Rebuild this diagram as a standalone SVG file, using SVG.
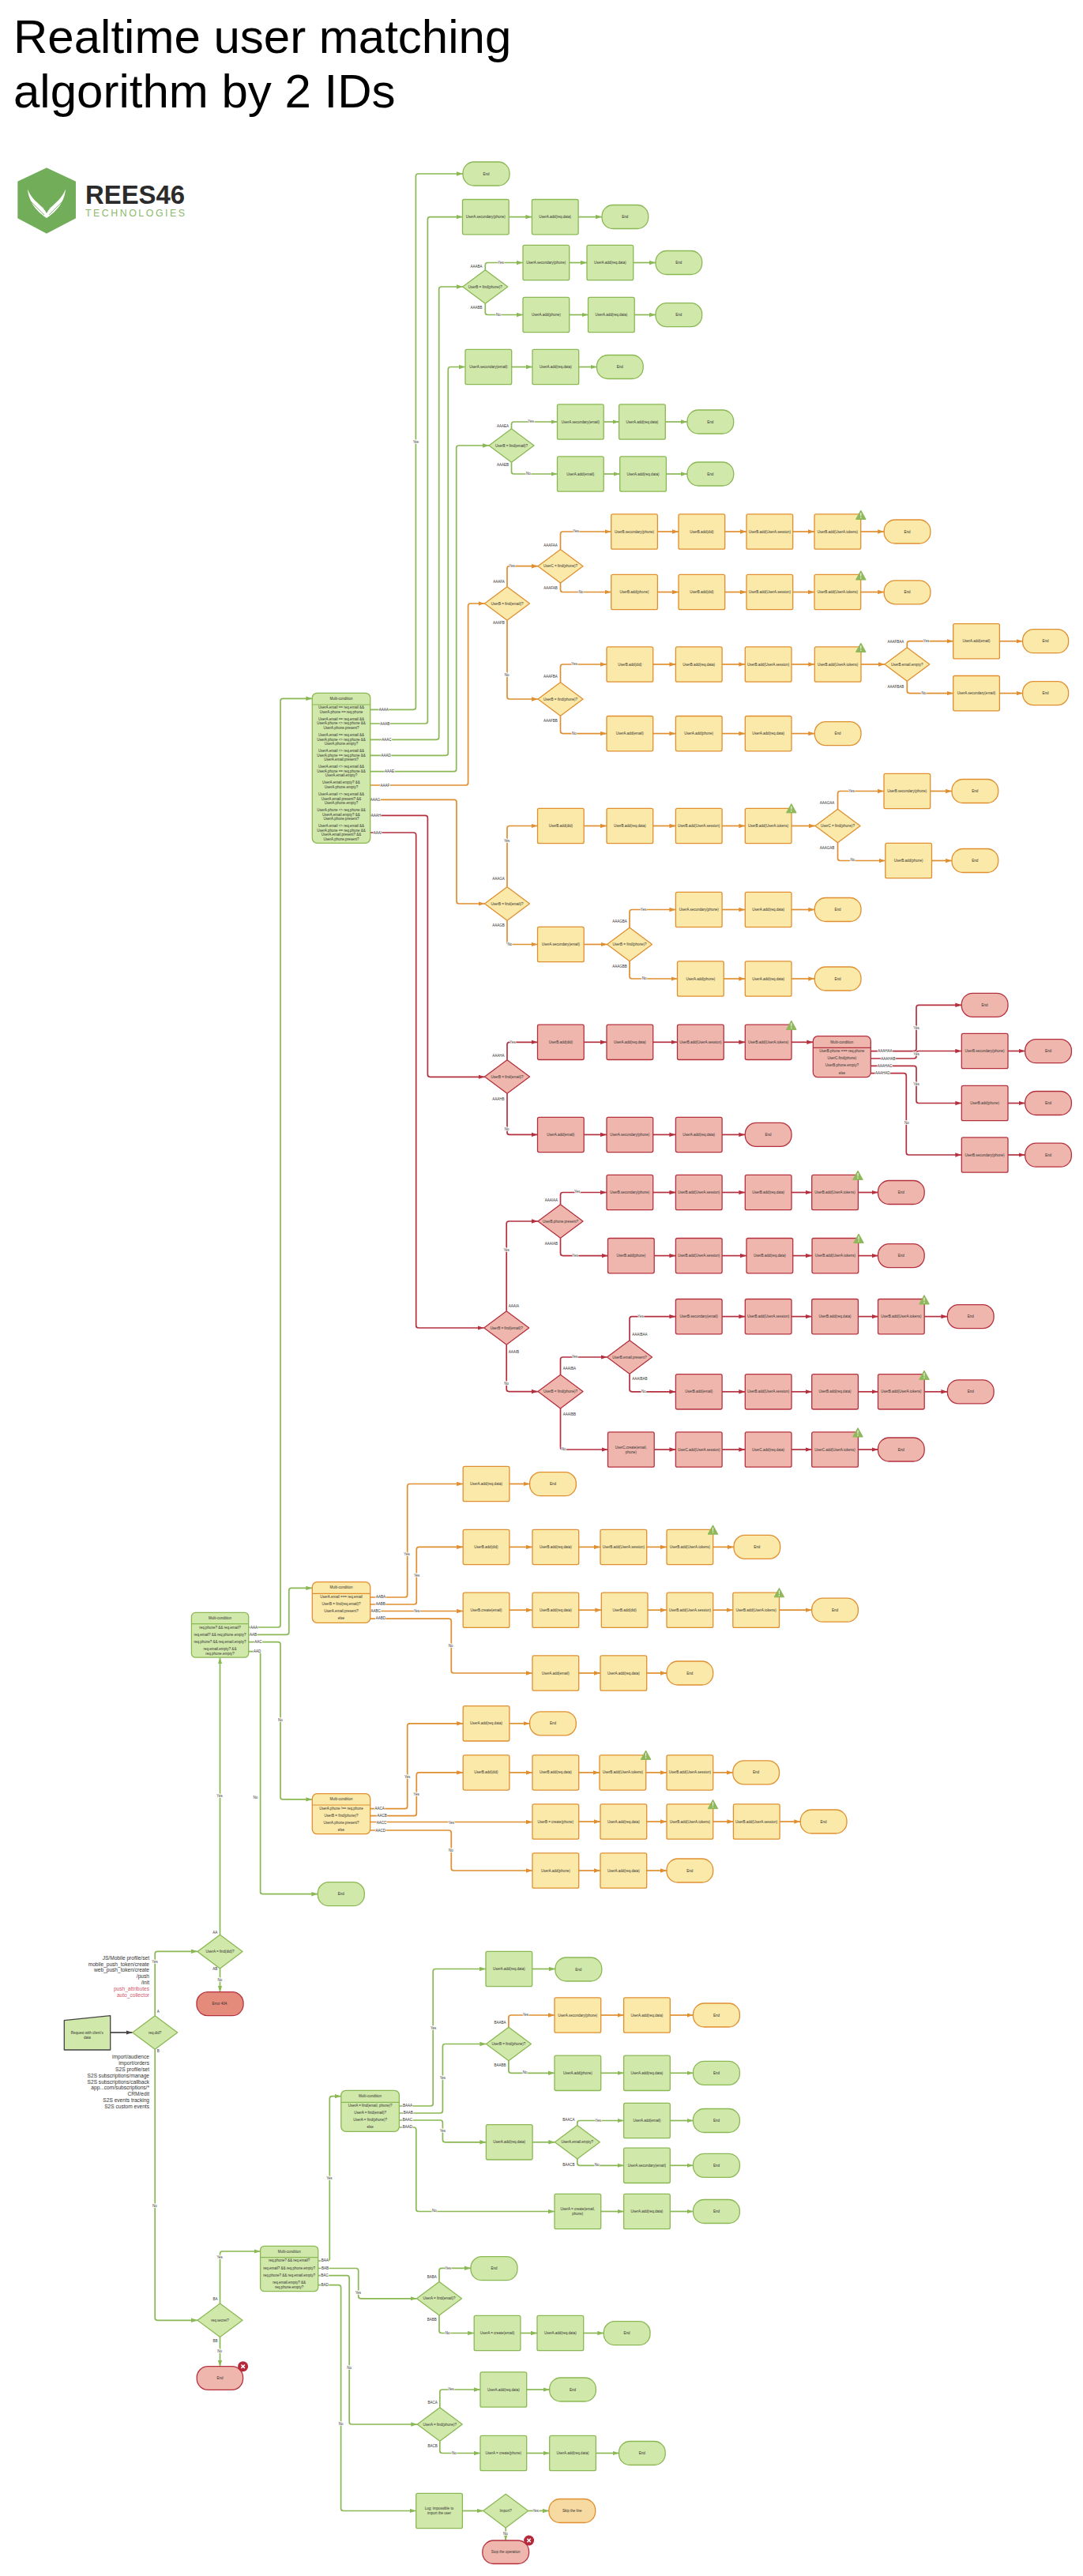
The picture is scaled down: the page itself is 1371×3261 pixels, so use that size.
<svg xmlns="http://www.w3.org/2000/svg" width="1371" height="3261" viewBox="0 0 1371 3261">
<style>
text{font-family:"Liberation Sans",Arial,sans-serif;font-size:4.5px;fill:#333;text-anchor:middle;dominant-baseline:central}
.title{font-size:60px;fill:#000;text-anchor:start;dominant-baseline:auto}
.side{font-size:6.6px;text-anchor:end}
.red{fill:#d2566c}
.l text{paint-order:stroke;stroke:#fff;stroke-width:1.5px}
rect,polygon{stroke-width:1.3;stroke-linejoin:round}
.g{fill:#d1e8ab;stroke:#8ab854}
.o{fill:#fbe9a9;stroke:#e08f30}
.r{fill:#eeb6ac;stroke:#b5303f}
.e{fill:#e58b7c;stroke:#b5303f}
.s{fill:#f6daa2;stroke:#e08f30}
path.h{fill:none;stroke-width:1.2}
.c path{fill:none;stroke-width:1.7}
.cg path{stroke:#8ab854;marker-end:url(#ag)}
.co path{stroke:#e08f30;marker-end:url(#ao)}
.cr path{stroke:#b5303f;marker-end:url(#ar)}
.ck path{stroke:#444;marker-end:url(#ak)}
</style>
<defs>
<marker id="ag" markerUnits="userSpaceOnUse" markerWidth="8" markerHeight="6" refX="8" refY="3" orient="auto"><path d="M0 .3L8 3L0 5.7z" fill="#8ab854"/></marker>
<marker id="ao" markerUnits="userSpaceOnUse" markerWidth="8" markerHeight="6" refX="8" refY="3" orient="auto"><path d="M0 .3L8 3L0 5.7z" fill="#e08f30"/></marker>
<marker id="ar" markerUnits="userSpaceOnUse" markerWidth="8" markerHeight="6" refX="8" refY="3" orient="auto"><path d="M0 .3L8 3L0 5.7z" fill="#b5303f"/></marker>
<marker id="ak" markerUnits="userSpaceOnUse" markerWidth="8" markerHeight="6" refX="8" refY="3" orient="auto"><path d="M0 .3L8 3L0 5.7z" fill="#444"/></marker>
<g id="warn"><path d="M0 -6L6.3 5.4H-6.3z" fill="#8fb85a" stroke="#8fb85a" stroke-linejoin="round"/><path d="M-.6 -2.8H.6L.4 1.6H-.4z M-.6 2.6H.6V3.8H-.6z" fill="#fff"/></g>
<g id="xb"><circle r="6.5" fill="#b5283a"/><path d="M-2.2 -2.2L2.2 2.2M2.2 -2.2L-2.2 2.2" stroke="#fff" stroke-width="1.6"/></g>
</defs>
<rect width="1371" height="3261" fill="#fff" style="stroke:none"/>
<text class="title" x="17" y="67">Realtime user matching</text>
<text class="title" x="17" y="136">algorithm by 2 IDs</text>
<g id="logo">
<polygon points="59,213 95.3,230 95.3,276 59,295 23,276 23,230" style="fill:#72ad5a;stroke:#72ad5a"/>
<path d="M35 239C36 256 47 268 59 276C71 268 82 256 83 239C80 249 70 258 63 263L59 270L55 263C48 258 38 249 35 239z" fill="#fff"/>
<path d="M38 254L56 272M42 249L57 266M80 254L62 272M76 249L61 266" stroke="#72ad5a" stroke-width=".8" fill="none"/>
<text x="171" y="246" textLength="126" lengthAdjust="spacingAndGlyphs" style="font-size:34px;font-weight:bold;fill:#2b2b2b">REES46</text>
<text x="171" y="270" textLength="126" style="font-size:12.4px;fill:#8bba6c">TECHNOLOGIES</text>
</g>
<g id="connectors" class="c">
<g class="cg">
<path d="M468.7 898.3H523.4Q526.4 898.3 526.4 895.3V223Q526.4 220 529.4 220H586"/>
<path d="M468.7 916H538.4Q541.4 916 541.4 913V277.6Q541.4 274.6 544.4 274.6H585.5"/>
<path d="M468.7 936.3H552.7Q555.7 936.3 555.7 933.3V366Q555.7 363 558.7 363H585.8"/>
<path d="M468.7 956.3H564.3Q567.3 956.3 567.3 953.3V467.5Q567.3 464.5 570.3 464.5H589"/>
<path d="M468.7 976.7H574.7Q577.7 976.7 577.7 973.7V567Q577.7 564 580.7 564H619"/>
<path d="M644.2 274.6H673.4"/><path d="M732.1 274.6H762"/>
<path d="M614.3 341.7V335.5Q614.3 332.5 617.3 332.5H662"/>
<path d="M614.3 384.3V395.5Q614.3 398.5 617.3 398.5H662"/>
<path d="M720.7 332.5H743"/><path d="M801.7 332.5H830"/>
<path d="M720.7 398.5H744.5"/><path d="M803.2 398.5H830"/>
<path d="M647.7 464.5H674"/><path d="M732.7 464.5H755.5"/>
<path d="M647.5 542.7V537Q647.5 534 650.5 534H705.5"/>
<path d="M647.5 585.3V597Q647.5 600 650.5 600H705.5"/>
<path d="M764.2 534H783.6"/><path d="M842.3 534H870"/>
<path d="M764.2 600H784.7"/><path d="M843.4 600H870"/>
<path d="M314.7 2060H352Q355 2060 355 2057V887.3Q355 884.3 358 884.3H395.3"/>
<path d="M314.7 2069.3H362.8Q365.8 2069.3 365.8 2066.3V2013.4Q365.8 2010.4 368.8 2010.4H395.3"/>
<path d="M314.7 2078.6H352Q355 2078.6 355 2081.6V2274.9Q355 2277.9 358 2277.9H395.3"/>
<path d="M314.7 2090.7H326.6Q329.6 2090.7 329.6 2093.7V2394.7Q329.6 2397.7 332.6 2397.7H402.3"/>
<path d="M196.2 2551.7V2473.3Q196.2 2470.3 199.2 2470.3H250"/>
<path d="M196.2 2594.3V2934.3Q196.2 2937.3 199.2 2937.3H250"/>
<path d="M278.5 2449.3V2098.4"/><path d="M278.5 2492V2521.7"/>
<path d="M278.5 2916V2853Q278.5 2850 281.5 2850H329.6"/>
<path d="M278.5 2958.7V2995.7"/>
<path d="M402.7 2862H414.3Q417.3 2862 417.3 2859V2656.7Q417.3 2653.7 420.3 2653.7H431.8"/>
<path d="M402.7 2871.5H450.7Q453.7 2871.5 453.7 2874.5V2906.8Q453.7 2909.8 456.7 2909.8H527.5"/>
<path d="M402.7 2880.7H439.2Q442.2 2880.7 442.2 2883.7V3066Q442.2 3069 445.2 3069H528.3"/>
<path d="M402.7 2892.7H428.6Q431.6 2892.7 431.6 2895.7V3175.5Q431.6 3178.5 434.6 3178.5H526.7"/>
<path d="M505.4 2666H545.2Q548.2 2666 548.2 2663V2495.5Q548.2 2492.5 551.2 2492.5H615"/>
<path d="M505.4 2675H557.4Q560.4 2675 560.4 2672V2590.5Q560.4 2587.5 563.4 2587.5H615.4"/>
<path d="M505.4 2684H557.4Q560.4 2684 560.4 2687V2708.8Q560.4 2711.8 563.4 2711.8H615.4"/>
<path d="M505.4 2693H523.8Q526.8 2693 526.8 2696V2796.5Q526.8 2799.5 529.8 2799.5H702"/>
<path d="M673.7 2492.5H702.9"/>
<path d="M643.9 2608.8V2621.3Q643.9 2624.3 646.9 2624.3H702"/>
<path d="M760.7 2624.3H789.6"/><path d="M848.3 2624.3H877.5"/>
<path d="M674.1 2711.8H702.3"/>
<path d="M730.8 2690.5V2687.5Q730.8 2684.5 733.8 2684.5H789.6"/>
<path d="M730.8 2733.1V2738.3Q730.8 2741.3 733.8 2741.3H789.6"/>
<path d="M848.3 2684.5H877.5"/><path d="M848.3 2741.3H877.5"/>
<path d="M760.7 2799.5H789.6"/><path d="M848.3 2799.5H877.5"/>
<path d="M556 2888.5V2874.3Q556 2871.3 559 2871.3H596"/>
<path d="M556 2931.1V2950.5Q556 2953.5 559 2953.5H600.2"/>
<path d="M658.9 2953.5H680"/><path d="M738.7 2953.5H764.3"/>
<path d="M556.8 3047.7V3028Q556.8 3025 559.8 3025H608"/>
<path d="M556.8 3090.3V3102.5Q556.8 3105.5 559.8 3105.5H608"/>
<path d="M666.7 3025H695.7"/>
<path d="M666.7 3105.5H695.7"/><path d="M754.4 3105.5H783.5"/>
<path d="M585.4 3178.5H611.7"/>
<path d="M668.7 3178.5H694.9"/>
<path d="M640.2 3199.9V3216"/>
</g>
<g class="co">
<path d="M468.7 994H589.6Q592.6 994 592.6 991V767Q592.6 764 595.6 764H613.5"/>
<path d="M468.7 1012.3H575Q578 1012.3 578 1015.3V1141Q578 1144 581 1144H613.5"/>
<path d="M642 742.7V719.7Q642 716.7 645 716.7H681"/>
<path d="M642 785.3V882Q642 885 645 885H681"/>
<path d="M709.5 695.4V676Q709.5 673 712.5 673H773.7"/>
<path d="M709.5 738V746.5Q709.5 749.5 712.5 749.5H773.7"/>
<path d="M832.4 673H859"/><path d="M917.7 673H945"/><path d="M1003.7 673H1031"/><path d="M1089.7 673H1119.2"/>
<path d="M832.4 749.5H859"/><path d="M917.7 749.5H945"/><path d="M1003.7 749.5H1031"/><path d="M1089.7 749.5H1119.2"/>
<path d="M709.5 863.7V844Q709.5 841 712.5 841H768"/>
<path d="M709.5 906.3V925.6Q709.5 928.6 712.5 928.6H768"/>
<path d="M826.7 841H855.4"/><path d="M914.1 841H943.3"/><path d="M1002 841H1031.3"/><path d="M1090 841H1119.8"/>
<path d="M1148.3 819.7V814.7Q1148.3 811.7 1151.3 811.7H1206.7"/>
<path d="M1148.3 862.3V874.6Q1148.3 877.6 1151.3 877.6H1206.7"/>
<path d="M1265.4 811.7H1294.6"/><path d="M1265.4 877.6H1294.6"/>
<path d="M826.7 928.6H855.4"/><path d="M914.1 928.6H943.3"/><path d="M1002 928.6H1031.3"/>
<path d="M642 1122.7V1048.5Q642 1045.5 645 1045.5H680.5"/>
<path d="M642 1165.3V1192.5Q642 1195.5 645 1195.5H680.5"/>
<path d="M739.2 1045.5H768"/><path d="M826.7 1045.5H855.4"/><path d="M914.1 1045.5H943.3"/><path d="M1002 1045.5H1032"/>
<path d="M1060.5 1024.2V1004.5Q1060.5 1001.5 1063.5 1001.5H1119"/>
<path d="M1060.5 1066.8V1086.5Q1060.5 1089.5 1063.5 1089.5H1120.8"/>
<path d="M1177.7 1001.5H1205"/><path d="M1179.5 1089.5H1205"/>
<path d="M739.2 1195.5H768.5"/>
<path d="M797 1174.2V1154.5Q797 1151.5 800 1151.5H855.4"/>
<path d="M797 1216.8V1236Q797 1239 800 1239H857.5"/>
<path d="M914.1 1151.5H943.3"/><path d="M1002 1151.5H1031.3"/>
<path d="M916.2 1239H943.3"/><path d="M1002 1239H1031.3"/>
<path d="M468.7 2022H512.7Q515.7 2022 515.7 2019V1881.5Q515.7 1878.5 518.7 1878.5H586.2"/>
<path d="M468.7 2031H524.3Q527.3 2031 527.3 2028V1961.4Q527.3 1958.4 530.3 1958.4H586.2"/>
<path d="M468.7 2039.5H586.2"/>
<path d="M468.7 2049.2H568.3Q571.3 2049.2 571.3 2052.2V2115Q571.3 2118 574.3 2118H674"/>
<path d="M645 1878.5H670.6"/>
<path d="M645 1958.4H674"/><path d="M732.7 1958.4H760"/><path d="M818.7 1958.4H844"/><path d="M902.7 1958.4H929"/>
<path d="M645 2038.2H674"/><path d="M732.7 2038.2H761.3"/><path d="M820 2038.2H844"/><path d="M902.7 2038.2H927.8"/><path d="M986.5 2038.2H1027.7"/>
<path d="M732.7 2118H760"/><path d="M818.7 2118H844"/>
<path d="M468.7 2289.7H512.7Q515.7 2289.7 515.7 2286.7V2184.8Q515.7 2181.8 518.7 2181.8H586.2"/>
<path d="M468.7 2298.7H524.3Q527.3 2298.7 527.3 2295.7V2246.9Q527.3 2243.9 530.3 2243.9H586.2"/>
<path d="M468.7 2306.5H674"/>
<path d="M468.7 2317H568.3Q571.3 2317 571.3 2320V2365Q571.3 2368 574.3 2368H674"/>
<path d="M645 2181.8H670.6"/>
<path d="M645 2243.9H674"/><path d="M732.7 2243.9H759"/><path d="M817.7 2243.9H844"/><path d="M902.7 2243.9H927.8"/>
<path d="M732.7 2306H760"/><path d="M818.7 2306H844"/><path d="M902.7 2306H928.4"/><path d="M987.1 2306H1013.3"/>
<path d="M732.7 2368H760"/><path d="M818.7 2368H844"/>
<path d="M643.9 2566.2V2554Q643.9 2551 646.9 2551H702"/>
<path d="M760.7 2551H789.6"/><path d="M848.3 2551H877.5"/>
</g>
<g class="cr">
<path d="M468.7 1032.3H538.4Q541.4 1032.3 541.4 1035.3V1360.3Q541.4 1363.3 544.4 1363.3H613.5"/>
<path d="M468.7 1054H523.7Q526.7 1054 526.7 1057V1678Q526.7 1681 529.7 1681H612.7"/>
<path d="M642 1341.7V1322.3Q642 1319.3 645 1319.3H680.5"/>
<path d="M642 1384.3V1433.4Q642 1436.4 645 1436.4H680.5"/>
<path d="M739.2 1319.3H768"/><path d="M826.7 1319.3H857.5"/><path d="M916.2 1319.3H943.3"/><path d="M1002 1319.3H1029.3"/>
<path d="M1102.3 1330.7H1157Q1160 1330.7 1160 1327.7V1275.3Q1160 1272.3 1163 1272.3H1217.3"/>
<path d="M1102.3 1340H1157Q1160 1340 1160 1337V1333.5Q1160 1330.5 1163 1330.5H1217.3"/>
<path d="M1102.3 1349.3H1157Q1160 1349.3 1160 1352.3V1393.5Q1160 1396.5 1163 1396.5H1217.3"/>
<path d="M1102.3 1358.7H1144.3Q1147.3 1358.7 1147.3 1361.7V1459Q1147.3 1462 1150.3 1462H1217.3"/>
<path d="M1276 1330.5H1297.7"/><path d="M1276 1396.5H1297.7"/><path d="M1276 1462H1297.7"/>
<path d="M739.2 1436.4H768"/><path d="M826.7 1436.4H855.4"/><path d="M914.1 1436.4H943.3"/>
<path d="M641.2 1659.7V1549Q641.2 1546 644.2 1546H681"/>
<path d="M641.2 1702.3V1758.6Q641.2 1761.6 644.2 1761.6H681"/>
<path d="M709.5 1524.7V1512.5Q709.5 1509.5 712.5 1509.5H768"/>
<path d="M709.5 1567.3V1586.6Q709.5 1589.6 712.5 1589.6H769.5"/>
<path d="M826.7 1509.5H855.4"/><path d="M914.1 1509.5H943.3"/><path d="M1002 1509.5H1027.7"/><path d="M1086.4 1509.5H1111.5"/>
<path d="M828.2 1589.6H855.4"/><path d="M914.1 1589.6H945"/><path d="M1003.7 1589.6H1028"/><path d="M1086.7 1589.6H1111.5"/>
<path d="M709.5 1740.3V1721Q709.5 1718 712.5 1718H768.5"/>
<path d="M709.5 1782.9V1832Q709.5 1835 712.5 1835H769.5"/>
<path d="M797 1696.7V1669.6Q797 1666.6 800 1666.6H855.4"/>
<path d="M797 1739.3V1758.8Q797 1761.8 800 1761.8H855.4"/>
<path d="M914.1 1666.6H943.3"/><path d="M1002 1666.6H1027.7"/><path d="M1086.4 1666.6H1111.5"/><path d="M1170.2 1666.6H1199.4"/>
<path d="M914.1 1761.8H943.3"/><path d="M1002 1761.8H1027.7"/><path d="M1086.4 1761.8H1111.5"/><path d="M1170.2 1761.8H1199.4"/>
<path d="M828.2 1835H855.4"/><path d="M914.1 1835H943.3"/><path d="M1002 1835H1027.7"/><path d="M1086.4 1835H1111.5"/>
</g>
<g class="ck"><path d="M139.7 2573H167.5"/></g>
<g class="l">
<text x="526.4" y="559">Yes</text>
<text x="603" y="337">AAABA</text><text x="603" y="389">AAABB</text><text x="634" y="332">Yes</text><text x="631" y="398">No</text>
<text x="636.6" y="539">AAAEA</text><text x="636.6" y="588.6">AAAEB</text><text x="672" y="533">Yes</text><text x="669" y="599">No</text>
<text x="485.7" y="898.3">AAAA</text><text x="487.3" y="916">AAAB</text><text x="489.3" y="936.3">AAAC</text><text x="488.7" y="956">AAAD</text><text x="493" y="976.7">AAAE</text><text x="487.3" y="994">AAAF</text><text x="475" y="1012">AAAG</text><text x="476" y="1032">AAAH</text><text x="478" y="1054">AAAI</text>
<text x="631.4" y="736.5">AAAFA</text><text x="631.4" y="788.7">AAAFB</text><text x="648" y="716">Yes</text><text x="641.7" y="854">No</text>
<text x="697" y="690">AAAFAA</text><text x="697" y="744">AAAFAB</text><text x="729" y="672">Yes</text><text x="735.4" y="749">No</text>
<text x="697" y="856">AAAFBA</text><text x="697" y="912">AAAFBB</text><text x="727" y="840.5">Yes</text><text x="727" y="928">No</text>
<text x="1134" y="812.4">AAAFBAA</text><text x="1134" y="869">AAAFBAB</text><text x="1172.5" y="811">Yes</text><text x="1169.4" y="877">No</text>
<text x="631" y="1112">AAAGA</text><text x="631" y="1171">AAAGB</text><text x="641.7" y="1064.7">Yes</text><text x="645.4" y="1195">No</text>
<text x="1047" y="1016">AAAGAA</text><text x="1047" y="1073.4">AAAGAB</text><text x="1078" y="1001.4">Yes</text><text x="1079.4" y="1088.8">No</text>
<text x="784.5" y="1166">AAAGBA</text><text x="784.5" y="1223">AAAGBB</text><text x="814.5" y="1151">Yes</text><text x="815.6" y="1238.6">No</text>
<text x="631" y="1336">AAAHA</text><text x="631" y="1391">AAAHB</text><text x="649" y="1319">Yes</text><text x="641.7" y="1429">No</text>
<text x="1120.3" y="1330.7">AAAHAA</text><text x="1124.3" y="1340">AAAHAB</text><text x="1120" y="1349">AAAHAC</text><text x="1117.3" y="1358.3">AAAHAD</text>
<text x="1160" y="1301">Yes</text><text x="1160" y="1334.7">Yes</text><text x="1160" y="1372.3">Yes</text><text x="1148" y="1421.7">No</text>
<text x="650.5" y="1653">AAAIA</text><text x="650.5" y="1711">AAAIB</text><text x="641.2" y="1582">Yes</text><text x="641.2" y="1751.5">No</text>
<text x="698" y="1519.4">AAAIAA</text><text x="698" y="1574.4">AAAIAB</text><text x="730.7" y="1508.8">Yes</text><text x="728" y="1589">Yes</text>
<text x="721" y="1732">AAAIBA</text><text x="721" y="1790">AAAIBB</text><text x="727.6" y="1717.5">Yes</text><text x="713.6" y="1834">No</text>
<text x="810" y="1689">AAAIBAA</text><text x="810" y="1745.6">AAAIBAB</text><text x="811" y="1666">Yes</text><text x="815" y="1761">No</text>
<text x="321.6" y="2060">AAA</text><text x="320.5" y="2069">AAB</text><text x="326.8" y="2078">AAC</text><text x="325.6" y="2090.7">AAD</text><text x="355" y="2177.5">No</text><text x="323.3" y="2275.7">No</text><text x="278" y="2273">Yes</text>
<text x="482" y="2021.3">AABA</text><text x="481.7" y="2030.3">AABB</text><text x="475.7" y="2039.7">AABC</text><text x="482" y="2048.7">AABD</text>
<text x="515" y="1967.5">Yes</text><text x="527.7" y="1994">Yes</text><text x="527.3" y="2039.7">Yes</text><text x="570.7" y="2083">No</text>
<text x="480.7" y="2289.3">AACA</text><text x="483.7" y="2298.3">AACB</text><text x="483" y="2307.3">AACC</text><text x="481.7" y="2317">AACD</text>
<text x="515.6" y="2249">Yes</text><text x="527" y="2271">Yes</text><text x="571.3" y="2307">Yes</text><text x="570.8" y="2342">No</text>
<text x="272.3" y="2446.3">AA</text><text x="272.3" y="2492.7">AB</text><text x="278.3" y="2506">No</text>
<text x="196" y="2483.3">Yes</text><text x="200.3" y="2546.7">A</text><text x="200.3" y="2596">B</text><text x="196" y="2792.3">No</text>
<text x="516" y="2665.7">BAAA</text><text x="516.8" y="2674.7">BAAB</text><text x="516" y="2683.7">BAAC</text><text x="516" y="2692.7">BAAD</text>
<text x="548.6" y="2567">Yes</text><text x="560.4" y="2630.7">Yes</text><text x="560.4" y="2697.3">Yes</text><text x="550" y="2798.7">No</text>
<text x="633" y="2560">BAABA</text><text x="633" y="2614.7">BAABB</text><text x="665.4" y="2550.3">Yes</text><text x="664.6" y="2623.3">No</text>
<text x="720" y="2683.7">BAACA</text><text x="720" y="2740.3">BAACB</text><text x="757" y="2684">Yes</text><text x="755.7" y="2740.3">No</text>
<text x="278.2" y="2857.3">Yes</text><text x="272.4" y="2910.3">BA</text><text x="272.4" y="2963.7">BB</text><text x="278.2" y="2976.3">No</text>
<text x="411.2" y="2861.7">BAA</text><text x="411.6" y="2871">BAB</text><text x="410.8" y="2880.3">BAC</text><text x="411.2" y="2892.3">BAD</text>
<text x="416.8" y="2757.3">Yes</text><text x="453.3" y="2902">Yes</text><text x="442.2" y="2997.7">No</text><text x="431.6" y="3068.3">No</text>
<text x="567" y="2871.3">Yes</text><text x="546.7" y="2882.7">BABA</text><text x="546.7" y="2936">BABB</text><text x="566.7" y="2953">No</text>
<text x="570.8" y="3024.7">Yes</text><text x="547.6" y="3041.7">BACA</text><text x="547.6" y="3096">BACB</text><text x="575" y="3105">No</text>
<text x="678.2" y="3178">Yes</text><text x="639.8" y="3207">No</text>
</g>
</g>
<g id="nodes">
<g id="side-labels">
<text class="side" x="189" y="2478">JS/Mobile profile/set</text><text class="side" x="189" y="2486">mobile_push_token/create</text><text class="side" x="189" y="2493.7">web_push_token/create</text><text class="side" x="189" y="2501.7">/push</text><text class="side" x="189" y="2509.3">/init</text><text class="side red" x="189" y="2517.3">push_attributes</text><text class="side red" x="189" y="2525.3">auto_collector</text>
<text class="side" x="189" y="2603.3">import/audience</text><text class="side" x="189" y="2611.3">import/orders</text><text class="side" x="189" y="2619.3">S2S  profile/set</text><text class="side" x="189" y="2627">S2S subscriptions/manage</text><text class="side" x="189" y="2635">S2S subscriptions/callback</text><text class="side" x="189" y="2642.7">app...com/subscriptions/*</text><text class="side" x="189" y="2650.7">CRM/edit</text><text class="side" x="189" y="2658.7">S2S events tracking</text><text class="side" x="189" y="2666.3">S2S custom events</text>
</g>
<g id="e1"><rect class="g" x="586" y="205" width="59" height="30" rx="14"/><text x="615.5" y="220">End</text></g>
<g id="a1"><rect class="g" x="585.5" y="252.5" width="58.7" height="44.3" rx="2"/><text x="614.8" y="274.6">UserA.secondary(phone)</text></g>
<g id="a2"><rect class="g" x="673.4" y="252.5" width="58.7" height="44.3" rx="2"/><text x="702.7" y="274.6">UserA.add(req.data)</text></g>
<g id="a3"><rect class="g" x="762" y="259.5" width="58.7" height="30" rx="14"/><text x="791.3" y="274.6">End</text></g>
<g id="b0"><polygon class="g" points="585.8,363 614.3,341.7 642.8,363 614.3,384.3"/><text x="614.3" y="363">UserB = find(phone)?</text></g>
<g id="b1"><rect class="g" x="662" y="310.4" width="58.7" height="44.3" rx="2"/><text x="691.3" y="332.5">UserA.secondary(phone)</text></g>
<g id="b2"><rect class="g" x="743" y="310.4" width="58.7" height="44.3" rx="2"/><text x="772.3" y="332.5">UserA.add(req.data)</text></g>
<g id="b3"><rect class="g" x="830" y="317.5" width="58.7" height="30" rx="14"/><text x="859.3" y="332.5">End</text></g>
<g id="b4"><rect class="g" x="662" y="376.4" width="58.7" height="44.3" rx="2"/><text x="691.3" y="398.5">UserA.add(phone)</text></g>
<g id="b5"><rect class="g" x="744.5" y="376.4" width="58.7" height="44.3" rx="2"/><text x="773.8" y="398.5">UserA.add(req.data)</text></g>
<g id="b6"><rect class="g" x="830" y="383.6" width="58.7" height="30" rx="14"/><text x="859.3" y="398.5">End</text></g>
<g id="c1"><rect class="g" x="589" y="442.4" width="58.7" height="44.3" rx="2"/><text x="618.3" y="464.5">UserA.secondary(email)</text></g>
<g id="c2"><rect class="g" x="674" y="442.4" width="58.7" height="44.3" rx="2"/><text x="703.3" y="464.5">UserA.add(req.data)</text></g>
<g id="c3"><rect class="g" x="755.5" y="449.5" width="58.7" height="30" rx="14"/><text x="784.8" y="464.5">End</text></g>
<g id="d0"><polygon class="g" points="619,564 647.5,542.7 676,564 647.5,585.3"/><text x="647.5" y="564">UserB = find(email)?</text></g>
<g id="d1"><rect class="g" x="705.5" y="511.9" width="58.7" height="44.3" rx="2"/><text x="734.8" y="534">UserA.secondary(email)</text></g>
<g id="d2"><rect class="g" x="783.6" y="511.9" width="58.7" height="44.3" rx="2"/><text x="812.9" y="534">UserA.add(req.data)</text></g>
<g id="d3"><rect class="g" x="870" y="519" width="58.7" height="30" rx="14"/><text x="899.3" y="534">End</text></g>
<g id="d4"><rect class="g" x="705.5" y="577.9" width="58.7" height="44.3" rx="2"/><text x="734.8" y="600">UserA.add(email)</text></g>
<g id="d5"><rect class="g" x="784.7" y="577.9" width="58.7" height="44.3" rx="2"/><text x="814" y="600">UserA.add(req.data)</text></g>
<g id="d6"><rect class="g" x="870" y="585" width="58.7" height="30" rx="14"/><text x="899.3" y="600">End</text></g>
<g id="mAAA"><rect class="g" x="395.3" y="877.3" width="73.4" height="190" rx="6"/><path class="h" d="M395.3 892H468.7" stroke="#8ab854"/>
<text x="432" y="884">Multi-condition</text>
<text x="432" y="895.3">UserA.email == req.email &amp;&amp;</text><text x="432" y="901">UserA.phone == req.phone</text>
<text x="432" y="910">UserA.email == req.email &amp;&amp;</text><text x="432" y="915.7">UserA.phone &lt;&gt; req.phone &amp;&amp;</text><text x="432" y="921.3">UserA.phone.present?</text>
<text x="432" y="930.3">UserA.email == req.email &amp;&amp;</text><text x="432" y="936">UserA.phone &lt;&gt; req.phone &amp;&amp;</text><text x="432" y="941.3">UserA.phone.empty?</text>
<text x="432" y="950.3">UserA.email &lt;&gt; req.email &amp;&amp;</text><text x="432" y="956">UserA.phone == req.phone &amp;&amp;</text><text x="432" y="961.7">UserA.email.present?</text>
<text x="432" y="970.3">UserA.email &lt;&gt; req.email &amp;&amp;</text><text x="432" y="976">UserA.phone == req.phone &amp;&amp;</text><text x="432" y="981.7">UserA.email.empty?</text>
<text x="432" y="990.7">UserA.email.empty? &amp;&amp;</text><text x="432" y="996">UserA.phone.empty?</text>
<text x="432" y="1005.3">UserA.email &lt;&gt; req.email &amp;&amp;</text><text x="432" y="1011">UserA.email.present? &amp;&amp;</text><text x="432" y="1016.3">UserA.phone.empty?</text>
<text x="432" y="1025.3">UserA.phone &lt;&gt; req.phone &amp;&amp;</text><text x="432" y="1031">UserA.email.empty? &amp;&amp;</text><text x="432" y="1036.3">UserA.phone.present?</text>
<text x="432" y="1045.3">UserA.email &lt;&gt; req.email &amp;&amp;</text><text x="432" y="1051">UserA.phone == req.phone &amp;&amp;</text><text x="432" y="1056.7">UserA.email.present? &amp;&amp;</text><text x="432" y="1062">UserA.phone.present?</text></g>
<g id="f0"><polygon class="o" points="613.5,764 642,742.7 670.5,764 642,785.3"/><text x="642" y="764">UserB = find(email)?</text></g>
<g id="f1"><polygon class="o" points="681,716.7 709.5,695.4 738,716.7 709.5,738"/><text x="709.5" y="716.7">UserC = find(phone)?</text></g>
<g id="f2"><rect class="o" x="773.7" y="650.9" width="58.7" height="44.3" rx="2"/><text x="803" y="673">UserB.secondary(phone)</text></g>
<g id="f3"><rect class="o" x="859" y="650.9" width="58.7" height="44.3" rx="2"/><text x="888.3" y="673">UserB.add(did)</text></g>
<g id="f4"><rect class="o" x="945" y="650.9" width="58.7" height="44.3" rx="2"/><text x="974.3" y="673">UserB.add(UserA.session)</text></g>
<g id="f5"><rect class="o" x="1031" y="650.9" width="58.7" height="44.3" rx="2"/><text x="1060.3" y="673">UserB.add(UserA.tokens)</text><use href="#warn" x="1089.8" y="652"/></g>
<g id="f6"><rect class="o" x="1119.2" y="658" width="58.7" height="30" rx="14"/><text x="1148.5" y="673">End</text></g>
<g id="f7"><rect class="o" x="773.7" y="727.4" width="58.7" height="44.3" rx="2"/><text x="803" y="749.5">UserB.add(phone)</text></g>
<g id="f8"><rect class="o" x="859" y="727.4" width="58.7" height="44.3" rx="2"/><text x="888.3" y="749.5">UserB.add(did)</text></g>
<g id="f9"><rect class="o" x="945" y="727.4" width="58.7" height="44.3" rx="2"/><text x="974.3" y="749.5">UserB.add(UserA.session)</text></g>
<g id="f10"><rect class="o" x="1031" y="727.4" width="58.7" height="44.3" rx="2"/><text x="1060.3" y="749.5">UserB.add(UserA.tokens)</text><use href="#warn" x="1089.8" y="728.6"/></g>
<g id="f11"><rect class="o" x="1119.2" y="734.8" width="58.7" height="30" rx="14"/><text x="1148.5" y="749.5">End</text></g>
<g id="h0"><polygon class="o" points="681,885 709.5,863.7 738,885 709.5,906.3"/><text x="709.5" y="885">UserB = find(phone)?</text></g>
<g id="h1"><rect class="o" x="768" y="818.9" width="58.7" height="44.3" rx="2"/><text x="797.3" y="841">UserB.add(did)</text></g>
<g id="h2"><rect class="o" x="855.4" y="818.9" width="58.7" height="44.3" rx="2"/><text x="884.7" y="841">UserB.add(req.data)</text></g>
<g id="h3"><rect class="o" x="943.3" y="818.9" width="58.7" height="44.3" rx="2"/><text x="972.6" y="841">UserB.add(UserA.session)</text></g>
<g id="h4"><rect class="o" x="1031.3" y="818.9" width="58.7" height="44.3" rx="2"/><text x="1060.6" y="841">UserB.add(UserA.tokens)</text><use href="#warn" x="1089.8" y="820"/></g>
<g id="h5"><polygon class="o" points="1119.8,841 1148.3,819.7 1176.8,841 1148.3,862.3"/><text x="1148.3" y="841">UserB.email.empty?</text></g>
<g id="h6"><rect class="o" x="1206.7" y="789.6" width="58.7" height="44.3" rx="2"/><text x="1236" y="811.7">UserA.add(email)</text></g>
<g id="h7"><rect class="o" x="1294.6" y="796.7" width="58" height="30" rx="14"/><text x="1323.6" y="811.7">End</text></g>
<g id="h8"><rect class="o" x="1206.7" y="855.5" width="58.7" height="44.3" rx="2"/><text x="1236" y="877.6">UserA.secondary(email)</text></g>
<g id="h9"><rect class="o" x="1294.6" y="862.6" width="58" height="30" rx="14"/><text x="1323.6" y="877.6">End</text></g>
<g id="i1"><rect class="o" x="768" y="906.5" width="58.7" height="44.3" rx="2"/><text x="797.3" y="928.6">UserA.add(email)</text></g>
<g id="i2"><rect class="o" x="855.4" y="906.5" width="58.7" height="44.3" rx="2"/><text x="884.7" y="928.6">UserA.add(phone)</text></g>
<g id="i3"><rect class="o" x="943.3" y="906.5" width="58.7" height="44.3" rx="2"/><text x="972.6" y="928.6">UserA.add(req.data)</text></g>
<g id="i4"><rect class="o" x="1031.3" y="913.6" width="58.7" height="30" rx="14"/><text x="1060.6" y="928.6">End</text></g>
<g id="j0"><polygon class="o" points="613.5,1144 642,1122.7 670.5,1144 642,1165.3"/><text x="642" y="1144">UserB = find(email)?</text></g>
<g id="j1"><rect class="o" x="680.5" y="1023.4" width="58.7" height="44.3" rx="2"/><text x="709.8" y="1045.5">UserB.add(did)</text></g>
<g id="j2"><rect class="o" x="768" y="1023.4" width="58.7" height="44.3" rx="2"/><text x="797.3" y="1045.5">UserB.add(req.data)</text></g>
<g id="j3"><rect class="o" x="855.4" y="1023.4" width="58.7" height="44.3" rx="2"/><text x="884.7" y="1045.5">UserB.add(UserA.session)</text></g>
<g id="j4"><rect class="o" x="943.3" y="1023.4" width="58.7" height="44.3" rx="2"/><text x="972.6" y="1045.5">UserB.add(UserA.tokens)</text><use href="#warn" x="1001.8" y="1023.5"/></g>
<g id="j5"><polygon class="o" points="1032,1045.5 1060.5,1024.2 1089,1045.5 1060.5,1066.8"/><text x="1060.5" y="1045.5">UserC = find(phone)?</text></g>
<g id="j6"><rect class="o" x="1119" y="979.4" width="58.7" height="44.3" rx="2"/><text x="1148.3" y="1001.5">UserB.secondary(phone)</text></g>
<g id="j7"><rect class="o" x="1205" y="986.5" width="58.7" height="30" rx="14"/><text x="1234.3" y="1001.5">End</text></g>
<g id="j8"><rect class="o" x="1120.8" y="1067.4" width="58.7" height="44.3" rx="2"/><text x="1150.1" y="1089.5">UserB.add(phone)</text></g>
<g id="j9"><rect class="o" x="1205" y="1074.5" width="58.7" height="30" rx="14"/><text x="1234.3" y="1089.5">End</text></g>
<g id="k1"><rect class="o" x="680.5" y="1173.4" width="58.7" height="44.3" rx="2"/><text x="709.8" y="1195.5">UserA.secondary(email)</text></g>
<g id="k2"><polygon class="o" points="768.5,1195.5 797,1174.2 825.5,1195.5 797,1216.8"/><text x="797" y="1195.5">UserB = find(phone)?</text></g>
<g id="k3"><rect class="o" x="855.4" y="1129.4" width="58.7" height="44.3" rx="2"/><text x="884.7" y="1151.5">UserA.secondary(phone)</text></g>
<g id="k4"><rect class="o" x="943.3" y="1129.4" width="58.7" height="44.3" rx="2"/><text x="972.6" y="1151.5">UserA.add(req.data)</text></g>
<g id="k5"><rect class="o" x="1031.3" y="1136.5" width="58.7" height="30" rx="14"/><text x="1060.6" y="1151.5">End</text></g>
<g id="k6"><rect class="o" x="857.5" y="1216.9" width="58.7" height="44.3" rx="2"/><text x="886.8" y="1239">UserA.add(phone)</text></g>
<g id="k7"><rect class="o" x="943.3" y="1216.9" width="58.7" height="44.3" rx="2"/><text x="972.6" y="1239">UserA.add(req.data)</text></g>
<g id="k8"><rect class="o" x="1031.3" y="1224" width="58.7" height="30" rx="14"/><text x="1060.6" y="1239">End</text></g>
<g id="l0"><polygon class="r" points="613.5,1363 642,1341.7 670.5,1363 642,1384.3"/><text x="642" y="1363">UserB = find(email)?</text></g>
<g id="l1"><rect class="r" x="680.5" y="1297.2" width="58.7" height="44.3" rx="2"/><text x="709.8" y="1319.3">UserB.add(did)</text></g>
<g id="l2"><rect class="r" x="768" y="1297.2" width="58.7" height="44.3" rx="2"/><text x="797.3" y="1319.3">UserA.add(req.data)</text></g>
<g id="l3"><rect class="r" x="857.5" y="1297.2" width="58.7" height="44.3" rx="2"/><text x="886.8" y="1319.3">UserB.add(UserA.session)</text></g>
<g id="l4"><rect class="r" x="943.3" y="1297.2" width="58.7" height="44.3" rx="2"/><text x="972.6" y="1319.3">UserB.add(UserA.tokens)</text><use href="#warn" x="1001.8" y="1298"/></g>
<g id="mAAAHA"><rect class="r" x="1029.3" y="1311.7" width="73" height="52" rx="6"/><path class="h" d="M1029.3 1326.3H1102.3" stroke="#b5303f"/><text x="1065.8" y="1319">Multi-condition</text><text x="1065.8" y="1330.3">UserB.phone === req.phone</text><text x="1065.8" y="1339.7">UserC.find(phone)</text><text x="1065.8" y="1348.7">UserB.phone.empty?</text><text x="1065.8" y="1358">else</text></g>
<g id="l5"><rect class="r" x="1217.3" y="1257.3" width="58.7" height="30" rx="14"/><text x="1246.6" y="1272">End</text></g>
<g id="l6"><rect class="r" x="1217.3" y="1308.4" width="58.7" height="44.3" rx="2"/><text x="1246.6" y="1330.5">UserB.secondary(phone)</text></g>
<g id="l7"><rect class="r" x="1297.7" y="1315.7" width="58.7" height="30" rx="14"/><text x="1327" y="1330.5">End</text></g>
<g id="l8"><rect class="r" x="1217.3" y="1374.4" width="58.7" height="44.3" rx="2"/><text x="1246.6" y="1396.5">UserB.add(phone)</text></g>
<g id="l9"><rect class="r" x="1297.7" y="1381.5" width="58.7" height="30" rx="14"/><text x="1327" y="1396.5">End</text></g>
<g id="l10"><rect class="r" x="1217.3" y="1439.9" width="58.7" height="44.3" rx="2"/><text x="1246.6" y="1462">UserB.secondary(phone)</text></g>
<g id="l11"><rect class="r" x="1297.7" y="1447.2" width="58.7" height="30" rx="14"/><text x="1327" y="1462">End</text></g>
<g id="l12"><rect class="r" x="680.5" y="1414.3" width="58.7" height="44.3" rx="2"/><text x="709.8" y="1436.4">UserA.add(email)</text></g>
<g id="l13"><rect class="r" x="768" y="1414.3" width="58.7" height="44.3" rx="2"/><text x="797.3" y="1436.4">UserA.secondary(phone)</text></g>
<g id="l14"><rect class="r" x="855.4" y="1414.3" width="58.7" height="44.3" rx="2"/><text x="884.7" y="1436.4">UserA.add(req.data)</text></g>
<g id="l15"><rect class="r" x="943.3" y="1421.4" width="58.7" height="30" rx="14"/><text x="972.6" y="1436.4">End</text></g>
<g id="p0"><polygon class="r" points="612.7,1681 641.2,1659.7 669.7,1681 641.2,1702.3"/><text x="641.2" y="1681">UserB = find(email)?</text></g>
<g id="p1"><polygon class="r" points="681,1546 709.5,1524.7 738,1546 709.5,1567.3"/><text x="709.5" y="1546">UserB.phone.present?</text></g>
<g id="p2"><rect class="r" x="768" y="1487.4" width="58.7" height="44.3" rx="2"/><text x="797.3" y="1509.5">UserB.secondary(phone)</text></g>
<g id="p3"><rect class="r" x="855.4" y="1487.4" width="58.7" height="44.3" rx="2"/><text x="884.7" y="1509.5">UserB.add(UserA.session)</text></g>
<g id="p4"><rect class="r" x="943.3" y="1487.4" width="58.7" height="44.3" rx="2"/><text x="972.6" y="1509.5">UserB.add(req.data)</text></g>
<g id="p5"><rect class="r" x="1027.7" y="1487.4" width="58.7" height="44.3" rx="2"/><text x="1057" y="1509.5">UserB.add(UserA.tokens)</text><use href="#warn" x="1086" y="1488"/></g>
<g id="p6"><rect class="r" x="1111.5" y="1494.5" width="58.7" height="30" rx="14"/><text x="1140.8" y="1509.5">End</text></g>
<g id="p7"><rect class="r" x="769.5" y="1567.5" width="58.7" height="44.3" rx="2"/><text x="798.8" y="1589.6">UserB.add(phone)</text></g>
<g id="p8"><rect class="r" x="855.4" y="1567.5" width="58.7" height="44.3" rx="2"/><text x="884.7" y="1589.6">UserB.add(UserA.session)</text></g>
<g id="p9"><rect class="r" x="945" y="1567.5" width="58.7" height="44.3" rx="2"/><text x="974.3" y="1589.6">UserB.add(req.data)</text></g>
<g id="p10"><rect class="r" x="1028" y="1567.5" width="58.7" height="44.3" rx="2"/><text x="1057.3" y="1589.6">UserB.add(UserA.tokens)</text><use href="#warn" x="1087" y="1568"/></g>
<g id="p11"><rect class="r" x="1111.5" y="1574.6" width="58.7" height="30" rx="14"/><text x="1140.8" y="1589.6">End</text></g>
<g id="q0"><polygon class="r" points="681,1761.6 709.5,1740.3 738,1761.6 709.5,1782.9"/><text x="709.5" y="1761.6">UserB = find(phone)?</text></g>
<g id="q1"><polygon class="r" points="768.5,1718 797,1696.7 825.5,1718 797,1739.3"/><text x="797" y="1718">UserB.email.present?</text></g>
<g id="q2"><rect class="r" x="855.4" y="1644.5" width="58.7" height="44.3" rx="2"/><text x="884.7" y="1666.6">UserB.secondary(email)</text></g>
<g id="q3"><rect class="r" x="943.3" y="1644.5" width="58.7" height="44.3" rx="2"/><text x="972.6" y="1666.6">UserB.add(UserA.session)</text></g>
<g id="q4"><rect class="r" x="1027.7" y="1644.5" width="58.7" height="44.3" rx="2"/><text x="1057" y="1666.6">UserB.add(req.data)</text></g>
<g id="q5"><rect class="r" x="1111.5" y="1644.5" width="58.7" height="44.3" rx="2"/><text x="1140.8" y="1666.6">UserB.add(UserA.tokens)</text><use href="#warn" x="1170" y="1645.6"/></g>
<g id="q6"><rect class="r" x="1199.4" y="1651.6" width="58.7" height="30" rx="14"/><text x="1228.7" y="1666.6">End</text></g>
<g id="q7"><rect class="r" x="855.4" y="1739.7" width="58.7" height="44.3" rx="2"/><text x="884.7" y="1761.8">UserB.add(email)</text></g>
<g id="q8"><rect class="r" x="943.3" y="1739.7" width="58.7" height="44.3" rx="2"/><text x="972.6" y="1761.8">UserB.add(UserA.session)</text></g>
<g id="q9"><rect class="r" x="1027.7" y="1739.7" width="58.7" height="44.3" rx="2"/><text x="1057" y="1761.8">UserB.add(req.data)</text></g>
<g id="q10"><rect class="r" x="1111.5" y="1739.7" width="58.7" height="44.3" rx="2"/><text x="1140.8" y="1761.8">UserB.add(UserA.tokens)</text><use href="#warn" x="1170" y="1741"/></g>
<g id="q11"><rect class="r" x="1199.4" y="1746.8" width="58.7" height="30" rx="14"/><text x="1228.7" y="1761.8">End</text></g>
<g id="q12"><rect class="r" x="769.5" y="1812.9" width="58.7" height="44.3" rx="2"/><text x="798.8" y="1832.2">UserC.create(email,</text><text x="798.8" y="1838">phone)</text></g>
<g id="q13"><rect class="r" x="855.4" y="1812.9" width="58.7" height="44.3" rx="2"/><text x="884.7" y="1835">UserC.add(UserA.session)</text></g>
<g id="q14"><rect class="r" x="943.3" y="1812.9" width="58.7" height="44.3" rx="2"/><text x="972.6" y="1835">UserC.add(req.data)</text></g>
<g id="q15"><rect class="r" x="1027.7" y="1812.9" width="58.7" height="44.3" rx="2"/><text x="1057" y="1835">UserC.add(UserA.tokens)</text><use href="#warn" x="1086" y="1813.6"/></g>
<g id="q16"><rect class="r" x="1111.5" y="1820" width="58.7" height="30" rx="14"/><text x="1140.8" y="1835">End</text></g>
<g id="mAA"><rect class="g" x="242.4" y="2041.4" width="72.3" height="56.8" rx="5"/><path class="h" d="M242.4 2055.7H314.7" stroke="#8ab854"/><text x="278.5" y="2048">Multi-condition</text><text x="278.5" y="2060">req.phone? &amp;&amp; req.email?</text><text x="278.5" y="2069">req.email? &amp;&amp; req.phone.empty?</text><text x="278.5" y="2078">req.phone? &amp;&amp; req.email.empty?</text><text x="278.5" y="2087">req.email.empty? &amp;&amp;</text><text x="278.5" y="2093">req.phone.empty?</text></g>
<g id="mAAB"><rect class="o" x="395.3" y="2002.7" width="73.4" height="51.6" rx="6"/><path class="h" d="M395.3 2017.3H468.7" stroke="#e08f30"/><text x="432" y="2009.7">Multi-condition</text><text x="432" y="2021.3">UserA.email === req.email</text><text x="432" y="2030.3">UserB = find(req.email)?</text><text x="432" y="2039.7">UserA.email.present?</text><text x="432" y="2048.7">else</text></g>
<g id="r1"><rect class="o" x="586.2" y="1856.4" width="58.7" height="44.3" rx="2"/><text x="615.5" y="1878.5">UserA.add(req.data)</text></g>
<g id="r2"><rect class="o" x="670.6" y="1863.7" width="58.7" height="30" rx="14"/><text x="700" y="1878.5">End</text></g>
<g id="s1"><rect class="o" x="586.2" y="1936.3" width="58.7" height="44.3" rx="2"/><text x="615.5" y="1958.4">UserB.add(did)</text></g>
<g id="s2"><rect class="o" x="674" y="1936.3" width="58.7" height="44.3" rx="2"/><text x="703.3" y="1958.4">UserB.add(req.data)</text></g>
<g id="s3"><rect class="o" x="760" y="1936.3" width="58.7" height="44.3" rx="2"/><text x="789.3" y="1958.4">UserB.add(UserA.session)</text></g>
<g id="s4"><rect class="o" x="844" y="1936.3" width="58.7" height="44.3" rx="2"/><text x="873.3" y="1958.4">UserB.add(UserA.tokens)</text><use href="#warn" x="902.5" y="1936.8"/></g>
<g id="s5"><rect class="o" x="929" y="1943.4" width="58.7" height="30" rx="14"/><text x="958.3" y="1958.4">End</text></g>
<g id="t1"><rect class="o" x="586.2" y="2016.1" width="58.7" height="44.3" rx="2"/><text x="615.5" y="2038.2">UserB.create(email)</text></g>
<g id="t2"><rect class="o" x="674" y="2016.1" width="58.7" height="44.3" rx="2"/><text x="703.3" y="2038.2">UserB.add(req.data)</text></g>
<g id="t3"><rect class="o" x="761.3" y="2016.1" width="58.7" height="44.3" rx="2"/><text x="790.6" y="2038.2">UserB.add(did)</text></g>
<g id="t4"><rect class="o" x="844" y="2016.1" width="58.7" height="44.3" rx="2"/><text x="873.3" y="2038.2">UserB.add(UserA.session)</text></g>
<g id="t5"><rect class="o" x="927.8" y="2016.1" width="58.7" height="44.3" rx="2"/><text x="957.1" y="2038.2">UserB.add(UserA.tokens)</text><use href="#warn" x="986.4" y="2016.4"/></g>
<g id="t6"><rect class="o" x="1027.7" y="2023.2" width="58.7" height="30" rx="14"/><text x="1057" y="2038.2">End</text></g>
<g id="u1"><rect class="o" x="674" y="2095.9" width="58.7" height="44.3" rx="2"/><text x="703.3" y="2118">UserA.add(email)</text></g>
<g id="u2"><rect class="o" x="760" y="2095.9" width="58.7" height="44.3" rx="2"/><text x="789.3" y="2118">UserA.add(req.data)</text></g>
<g id="u3"><rect class="o" x="844" y="2103" width="58.7" height="30" rx="14"/><text x="873.3" y="2118">End</text></g>
<g id="mAAC"><rect class="o" x="395.3" y="2270.7" width="73.4" height="51" rx="6"/><path class="h" d="M395.3 2285H468.7" stroke="#e08f30"/><text x="432" y="2277.3">Multi-condition</text><text x="432" y="2289.3">UserA.phone !== req.phone</text><text x="432" y="2298.3">UserB = find(phone)?</text><text x="432" y="2307.3">UserA.phone.present?</text><text x="432" y="2316.7">else</text></g>
<g id="v1"><rect class="o" x="586.2" y="2159.7" width="58.7" height="44.3" rx="2"/><text x="615.5" y="2181.8">UserA.add(req.data)</text></g>
<g id="v2"><rect class="o" x="670.6" y="2166.8" width="58.7" height="30" rx="14"/><text x="700" y="2181.8">End</text></g>
<g id="w1"><rect class="o" x="586.2" y="2221.8" width="58.7" height="44.3" rx="2"/><text x="615.5" y="2243.9">UserB.add(did)</text></g>
<g id="w2"><rect class="o" x="674" y="2221.8" width="58.7" height="44.3" rx="2"/><text x="703.3" y="2243.9">UserB.add(req.data)</text></g>
<g id="w3"><rect class="o" x="759" y="2221.8" width="58.7" height="44.3" rx="2"/><text x="788.3" y="2243.9">UserB.add(UserA.tokens)</text><use href="#warn" x="817.6" y="2222"/></g>
<g id="w4"><rect class="o" x="844" y="2221.8" width="58.7" height="44.3" rx="2"/><text x="873.3" y="2243.9">UserB.add(UserA.session)</text></g>
<g id="w5"><rect class="o" x="927.8" y="2228.9" width="58.7" height="30" rx="14"/><text x="957.1" y="2243.9">End</text></g>
<g id="x1"><rect class="o" x="674" y="2283.9" width="58.7" height="44.3" rx="2"/><text x="703.3" y="2306">UserB = create(phone)</text></g>
<g id="x2"><rect class="o" x="760" y="2283.9" width="58.7" height="44.3" rx="2"/><text x="789.3" y="2306">UserA.add(req.data)</text></g>
<g id="x3"><rect class="o" x="844" y="2283.9" width="58.7" height="44.3" rx="2"/><text x="873.3" y="2306">UserB.add(UserA.tokens)</text><use href="#warn" x="902.5" y="2284.3"/></g>
<g id="x4"><rect class="o" x="928.4" y="2283.9" width="58.7" height="44.3" rx="2"/><text x="957.7" y="2306">UserB.add(UserA.session)</text></g>
<g id="x5"><rect class="o" x="1013.3" y="2291" width="58.7" height="30" rx="14"/><text x="1042.6" y="2306">End</text></g>
<g id="y1"><rect class="o" x="674" y="2345.9" width="58.7" height="44.3" rx="2"/><text x="703.3" y="2368">UserA.add(phone)</text></g>
<g id="y2"><rect class="o" x="760" y="2345.9" width="58.7" height="44.3" rx="2"/><text x="789.3" y="2368">UserA.add(req.data)</text></g>
<g id="y3"><rect class="o" x="844" y="2353" width="58.7" height="30" rx="14"/><text x="873.3" y="2368">End</text></g>
<g id="endAAD"><rect class="g" x="402.3" y="2382.7" width="59" height="30" rx="14"/><text x="431.8" y="2397.7">End</text></g>
<g id="req"><polygon points="81.3,2557.7 139.7,2551.7 139.7,2595 81.3,2595" style="fill:#d1e8ab;stroke:#444"/><text x="110.3" y="2573">Request with client's</text><text x="110.3" y="2579">data</text></g>
<g id="dDid"><polygon class="g" points="167.7,2573 196.2,2551.7 224.7,2573 196.2,2594.3"/><text x="196.2" y="2573">req.did?</text></g>
<g id="dFind"><polygon class="g" points="250,2470.6 278.5,2449.3 307,2470.6 278.5,2491.9"/><text x="278.5" y="2470.6">UserA = find(did)?</text></g>
<g id="err"><rect class="e" x="249" y="2521.7" width="59" height="30" rx="14"/><text x="278.5" y="2536">Error 404.</text></g>
<g id="mBAA"><rect class="g" x="431.8" y="2646.3" width="73.6" height="52" rx="6"/><path class="h" d="M431.8 2661.3H505.4" stroke="#8ab854"/><text x="468.6" y="2653.7">Multi-condition</text><text x="468.6" y="2665.3">UserA = find(email, phone)?</text><text x="468.6" y="2674.3">UserA = find(email)?</text><text x="468.6" y="2683.7">UserA = find(phone)?</text><text x="468.6" y="2692.7">else</text></g>
<g id="z1"><rect class="g" x="615" y="2470.4" width="58.7" height="44.3" rx="2"/><text x="644.3" y="2492.5">UserA.add(req.data)</text></g>
<g id="z2"><rect class="g" x="702.9" y="2478" width="58.9" height="30" rx="14"/><text x="732.3" y="2493">End</text></g>
<g id="z3"><polygon class="g" points="615.4,2587.5 643.9,2566.2 672.4,2587.5 643.9,2608.8"/><text x="643.9" y="2587.5">UserB = find(phone)?</text></g>
<g id="z4"><rect class="o" x="702" y="2528.9" width="58.7" height="44.3" rx="2"/><text x="731.3" y="2551">UserA.secondary(phone)</text></g>
<g id="z5"><rect class="o" x="789.6" y="2528.9" width="58.7" height="44.3" rx="2"/><text x="818.9" y="2551">UserA.add(req.data)</text></g>
<g id="z6"><rect class="o" x="877.5" y="2536" width="58.9" height="30" rx="14"/><text x="906.9" y="2551">End</text></g>
<g id="z7"><rect class="g" x="702" y="2602.2" width="58.7" height="44.3" rx="2"/><text x="731.3" y="2624.3">UserA.add(phone)</text></g>
<g id="z8"><rect class="g" x="789.6" y="2602.2" width="58.7" height="44.3" rx="2"/><text x="818.9" y="2624.3">UserA.add(req.data)</text></g>
<g id="z9"><rect class="g" x="877.5" y="2609.3" width="58.9" height="30" rx="14"/><text x="906.9" y="2624.3">End</text></g>
<g id="z10"><rect class="g" x="615.4" y="2689.7" width="58.7" height="44.3" rx="2"/><text x="644.7" y="2711.8">UserA.add(req.data)</text></g>
<g id="z11"><polygon class="g" points="702.3,2711.8 730.8,2690.5 759.3,2711.8 730.8,2733.1"/><text x="730.8" y="2711.8">UserA.email.empty?</text></g>
<g id="z12"><rect class="g" x="789.6" y="2662.4" width="58.7" height="44.3" rx="2"/><text x="818.9" y="2684.5">UserA.add(email)</text></g>
<g id="z13"><rect class="g" x="877.5" y="2669.5" width="58.9" height="30" rx="14"/><text x="906.9" y="2684.5">End</text></g>
<g id="z14"><rect class="g" x="789.6" y="2719.2" width="58.7" height="44.3" rx="2"/><text x="818.9" y="2741.3">UserA.secondary(email)</text></g>
<g id="z15"><rect class="g" x="877.5" y="2726.3" width="58.9" height="30" rx="14"/><text x="906.9" y="2741.3">End</text></g>
<g id="z16"><rect class="g" x="702" y="2777.4" width="58.7" height="44.3" rx="2"/><text x="731.3" y="2796.7">UserA = create(email,</text><text x="731.3" y="2802.5">phone)</text></g>
<g id="z17"><rect class="g" x="789.6" y="2777.4" width="58.7" height="44.3" rx="2"/><text x="818.9" y="2799.5">UserA.add(req.data)</text></g>
<g id="z18"><rect class="g" x="877.5" y="2784.5" width="58.9" height="30" rx="14"/><text x="906.9" y="2799.5">End</text></g>
<g id="dSecret"><polygon class="g" points="250,2937.3 278.5,2916 307,2937.3 278.5,2958.6"/><text x="278.5" y="2937.3">req.secret?</text></g>
<g id="endBB"><rect class="r" x="249.2" y="2995.7" width="58.4" height="29.6" rx="14"/><text x="278.5" y="3010">End</text><use href="#xb" x="307.6" y="2995.7"/></g>
<g id="mBA"><rect class="g" x="329.6" y="2843.3" width="73.1" height="57.4" rx="5"/><path class="h" d="M329.6 2857.7H402.7" stroke="#8ab854"/><text x="366.2" y="2850">Multi-condition</text><text x="366.2" y="2861.7">req.phone? &amp;&amp; req.email?</text><text x="366.2" y="2871">req.email? &amp;&amp; req.phone.empty?</text><text x="366.2" y="2880">req.phone? &amp;&amp; req.email.empty?</text><text x="366.2" y="2889">req.email.empty? &amp;&amp;</text><text x="366.2" y="2895">req.phone.empty?</text></g>
<g id="B1"><polygon class="g" points="527.5,2909.8 556,2888.5 584.5,2909.8 556,2931.1"/><text x="556" y="2909.8">UserA = find(email)?</text></g>
<g id="B2"><rect class="g" x="596" y="2856.7" width="59" height="30" rx="14"/><text x="625.5" y="2871.3">End</text></g>
<g id="B3"><rect class="g" x="600.2" y="2931.4" width="58.7" height="44.3" rx="2"/><text x="629.5" y="2953.5">UserA = create(email)</text></g>
<g id="B4"><rect class="g" x="680" y="2931.4" width="58.7" height="44.3" rx="2"/><text x="709.3" y="2953.5">UserA.add(req.data)</text></g>
<g id="B5"><rect class="g" x="764.3" y="2938.7" width="58.7" height="30" rx="14"/><text x="793.6" y="2953.5">End</text></g>
<g id="C1"><polygon class="g" points="528.3,3069 556.8,3047.7 585.3,3069 556.8,3090.3"/><text x="556.8" y="3069">UserA = find(phone)?</text></g>
<g id="C2"><rect class="g" x="608" y="3002.9" width="58.7" height="44.3" rx="2"/><text x="637.3" y="3025">UserA.add(req.data)</text></g>
<g id="C3"><rect class="g" x="695.7" y="3010" width="58.7" height="30" rx="14"/><text x="725" y="3025">End</text></g>
<g id="C4"><rect class="g" x="608" y="3083.4" width="58.7" height="44.3" rx="2"/><text x="637.3" y="3105.5">UserA = create(phone)</text></g>
<g id="C5"><rect class="g" x="695.7" y="3083.4" width="58.7" height="44.3" rx="2"/><text x="725" y="3105.5">UserA.add(req.data)</text></g>
<g id="C6"><rect class="g" x="783.5" y="3090.5" width="58.7" height="30" rx="14"/><text x="812.8" y="3105.5">End</text></g>
<g id="D1"><rect class="g" x="526.7" y="3156.4" width="58.7" height="44.3" rx="2"/><text x="556" y="3175.5">Log: impossible to</text><text x="556" y="3181.3">import the user</text></g>
<g id="D2"><polygon class="g" points="611.7,3178.6 640.2,3157.3 668.7,3178.6 640.2,3199.9"/><text x="640.2" y="3178.6">Import?</text></g>
<g id="D3"><rect class="s" x="694.9" y="3163.5" width="58.8" height="30" rx="14"/><text x="724.3" y="3178.5">Skip the line</text></g>
<g id="D4"><rect class="r" x="610.8" y="3216" width="58.8" height="29.5" rx="14"/><text x="640.2" y="3230.5">Stop the operation</text><use href="#xb" x="669.6" y="3216"/></g>
</g>
</svg>
